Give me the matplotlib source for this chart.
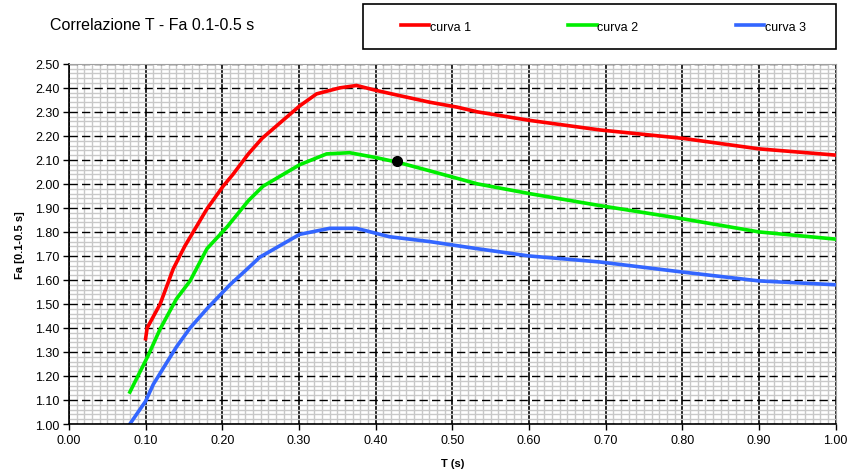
import numpy as np
import matplotlib
matplotlib.use("Agg")
import matplotlib.pyplot as plt
from matplotlib.patches import Rectangle
from matplotlib.ticker import MultipleLocator, FormatStrFormatter

plt.rcParams['font.family'] = ['Liberation Sans', 'DejaVu Sans']

# curve values
t1 = [0.100, 0.102, 0.119, 0.136, 0.151, 0.180, 0.201, 0.214, 0.234, 0.252,
      0.301, 0.323, 0.353, 0.375, 0.400, 0.428, 0.471, 0.506, 0.533, 0.600,
      0.692, 0.800, 0.900, 1.000]
fa1 = [1.355, 1.400, 1.500, 1.646, 1.740, 1.896, 1.990, 2.040, 2.125, 2.190,
       2.325, 2.375, 2.400, 2.410, 2.390, 2.370, 2.340, 2.320, 2.300, 2.265,
       2.225, 2.190, 2.146, 2.120]

t2 = [0.0795, 0.103, 0.119, 0.140, 0.158, 0.180, 0.206, 0.234, 0.253, 0.301,
      0.336, 0.366, 0.400, 0.429, 0.470, 0.533, 0.600, 0.692, 0.800, 0.900, 1.000]
fa2 = [1.133, 1.283, 1.396, 1.520, 1.596, 1.730, 1.820, 1.930, 1.990, 2.080,
       2.125, 2.130, 2.110, 2.090, 2.055, 2.000, 1.960, 1.910, 1.855, 1.800, 1.770]

t3 = [0.0795, 0.100, 0.110, 0.140, 0.158, 0.180, 0.210, 0.234, 0.249, 0.301,
      0.340, 0.375, 0.418, 0.470, 0.533, 0.600, 0.692, 0.800, 0.900, 1.000]
fa3 = [1.000, 1.095, 1.165, 1.320, 1.400, 1.480, 1.580, 1.650, 1.695, 1.790,
       1.815, 1.815, 1.780, 1.760, 1.730, 1.700, 1.675, 1.633, 1.596, 1.580]

point_t = [0.428]
point_fa = [2.097]

labels = ["curva 1", "curva 2", "curva 3"]
colors = ["#ff0000", "#00ee00", "#3366ff"]

fig = plt.figure(figsize=(8.51, 4.77), dpi=100)
ax = fig.add_axes([0.081, 0.109, 0.901, 0.755])

ax.set_xlim(0, 1)
ax.set_ylim(1.0, 2.5)
ax.xaxis.set_major_locator(MultipleLocator(0.1))
ax.xaxis.set_minor_locator(MultipleLocator(0.01))
ax.yaxis.set_major_locator(MultipleLocator(0.1))
ax.yaxis.set_minor_locator(MultipleLocator(0.02))
ax.xaxis.set_major_formatter(FormatStrFormatter("%.2f"))
ax.yaxis.set_major_formatter(FormatStrFormatter("%.2f"))

ax.grid(which="minor", color="#c8c8c8", lw=1.0)
ax.grid(which="major", axis="x", color="black", lw=1.2, ls="-")
ax.grid(which="major", axis="y", color="black", lw=1.0, ls=(0, (6, 3)))
ax.set_axisbelow(True)

for sp in ["top", "right"]:
    ax.spines[sp].set_color("#a0a0a0")
for sp in ["left", "bottom"]:
    ax.spines[sp].set_color("black")
    ax.spines[sp].set_linewidth(1.2)

ax.tick_params(which="major", direction="out", length=4, width=1,
               labelsize=9, pad=3)
ax.tick_params(which="minor", length=0)

lines = []
for t, fa, c, lab in zip([t1, t2, t3], [fa1, fa2, fa3], colors, labels):
    ln, = ax.plot(t, fa, color=c, lw=2.6, label=lab, solid_joinstyle="miter")
    lines.append(ln)

ax.plot(point_t, point_fa, "o", color="black", ms=7, zorder=5)

ax.set_xlabel("T (s)", fontsize=8, fontweight="bold", labelpad=9)
ax.set_ylabel("Fa [0.1-0.5 s]", fontsize=8, fontweight="bold", labelpad=7)

fig.text(0.059, 0.946, "Correlazione T - Fa 0.1-0.5 s", fontsize=11.5,
         va="center", ha="left")

# legend box
fig.patches.append(Rectangle((0.4266, 0.8952), 0.5558, 0.0943,
                             transform=fig.transFigure, fill=False,
                             edgecolor="black", lw=1.2))
leg = fig.legend(handles=lines, labels=labels, ncol=3, loc="center",
                 bbox_to_anchor=(0.709, 0.942), frameon=False,
                 fontsize=9, handlelength=2.25, handletextpad=0.05,
                 columnspacing=7.8)

fig.savefig("out.png", dpi=100)
